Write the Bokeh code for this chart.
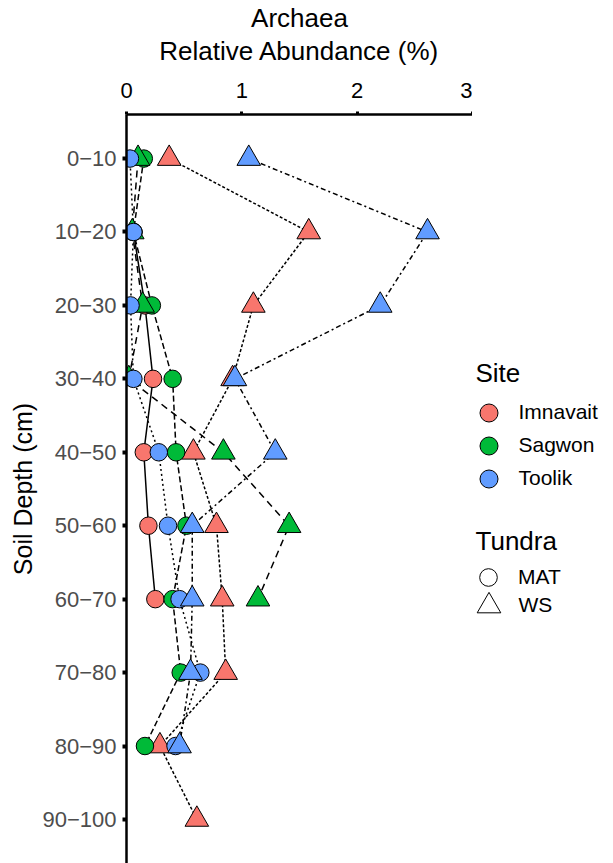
import numpy as np
from bokeh.plotting import figure
from bokeh.layouts import row
from bokeh.models import Range1d, FixedTicker, Legend, LegendItem, Label
from bokeh.embed import file_html
from bokeh.resources import INLINE

# ---------------- data ----------------
depth_labels = ["0−10", "10−20", "20−30", "30−40", "40−50",
                "50−60", "60−70", "70−80", "80−90", "90−100"]
x_ticks = [0, 1, 2, 3]

imnavait_mat = [None, 0.06, 0.16, 0.23, 0.15, 0.19, 0.25, None, None, None]
imnavait_ws = [0.37, 1.58, 1.10, 0.92, 0.58, 0.78, 0.83, 0.86, 0.29, 0.61]
sagwon_mat = [0.15, 0.06, 0.22, 0.40, 0.43, 0.52, 0.40, 0.47, 0.16, None]
sagwon_ws = [0.10, 0.05, 0.14, 0.02, 0.84, 1.41, 1.14, None, None, None]
toolik_mat = [0.03, 0.06, 0.035, 0.06, 0.28, 0.36, 0.46, 0.64, 0.425, None]
toolik_ws = [1.06, 2.61, 2.20, 0.94, 1.29, 0.57, 0.57, 0.555, 0.46, None]

sites = ["Imnavait", "Sagwon", "Toolik"]
site_colors = ["#F8766D", "#00BA38", "#619CFF"]
tundras = ["MAT", "WS"]

series = [
    ("Imnavait", "MAT", imnavait_mat, "solid"),
    ("Imnavait", "WS", imnavait_ws, "3 2"),
    ("Sagwon", "MAT", sagwon_mat, "6 3"),
    ("Sagwon", "WS", sagwon_ws, "7 5"),
    ("Toolik", "MAT", toolik_mat, "2 3"),
    ("Toolik", "WS", toolik_ws, "5 3 2 3"),
]

FONT = "Liberation Sans"
markers = {"MAT": "circle", "WS": "triangle"}
msize = {"MAT": 17.5, "WS": 23.6}

ypos = np.arange(1, len(depth_labels) + 1, dtype=float)

p = figure(width=472, height=863, output_backend="svg", toolbar_location=None,
           x_range=Range1d(0, 3), y_range=Range1d(len(depth_labels) + 0.6, 0.4),
           x_axis_location="above", y_axis_location="left",
           min_border_left=126, min_border_top=113, min_border_right=0, min_border_bottom=0)
p.outline_line_color = None
p.xgrid.visible = False
p.ygrid.visible = False
p.background_fill_color = "white"
p.border_fill_color = "white"

p.title.text = "Archaea"
p.title.align = "center"
p.title.text_font = FONT
p.title.text_font_size = "26px"
p.title.text_font_style = "normal"
p.title.text_color = "black"
p.title.standoff = 0
p.title.offset = 0


def arr(v):
    return np.array([np.nan if x is None else x for x in v], dtype=float)


# lines beneath
for site, tundra, vals, dash in series:
    p.line(arr(vals), ypos, line_color="black", line_width=1.5, line_dash=dash)

# points
for site, tundra, vals, dash in series:
    col = site_colors[sites.index(site)]
    p.scatter(arr(vals), ypos, marker=markers[tundra], size=msize[tundra],
              fill_color=col, line_color="black", line_width=1)

# axes
xa = p.xaxis[0]
xa.ticker = FixedTicker(ticks=x_ticks)
xa.axis_label = "Relative Abundance (%)"
xa.axis_label_text_font = FONT
xa.axis_label_text_font_size = "26px"
xa.axis_label_text_font_style = "normal"
xa.axis_label_text_color = "black"
xa.axis_label_standoff = 14
xa.major_label_text_font = FONT
xa.major_label_text_font_size = "22px"
xa.major_label_text_color = "black"
xa.major_label_standoff = 14
xa.axis_line_width = 2.5
xa.axis_line_color = "black"
xa.major_tick_line_width = 3
xa.major_tick_out = 3
xa.major_tick_in = 0
xa.minor_tick_line_color = None

ya = p.yaxis[0]
ya.ticker = FixedTicker(ticks=list(ypos))
ya.major_label_overrides = {float(y): lab for y, lab in zip(ypos, depth_labels)}
ya.axis_label = "Soil Depth (cm)"
ya.axis_label_text_font = FONT
ya.axis_label_text_font_size = "25px"
ya.axis_label_text_font_style = "normal"
ya.axis_label_text_color = "black"
ya.axis_label_standoff = 2
ya.major_label_text_font = FONT
ya.major_label_text_font_size = "22px"
ya.major_label_text_color = "#4D4D4D"
ya.major_label_standoff = 6
ya.axis_line_width = 2.5
ya.axis_line_color = "black"
ya.major_tick_line_width = 4
ya.major_tick_out = 4
ya.major_tick_in = 0
ya.minor_tick_line_color = None

# ---------------- legend panel ----------------
lf = figure(width=613 - 472, height=863, output_backend="svg", toolbar_location=None,
            x_range=Range1d(0, 1), y_range=Range1d(0, 1),
            x_axis_type=None, y_axis_type=None,
            min_border_left=0, min_border_right=0, min_border_top=0, min_border_bottom=0)
lf.outline_line_color = None
lf.xgrid.visible = False
lf.ygrid.visible = False
lf.background_fill_color = "white"
lf.border_fill_color = "white"

nan1 = [np.nan]


def make_legend(label, renderer, loc, box, standoff):
    leg = Legend(items=[LegendItem(label=label, renderers=[renderer])], location=loc,
                 glyph_width=box, glyph_height=box, label_standoff=standoff)
    leg.background_fill_alpha = 0
    leg.border_line_alpha = 0
    leg.padding = 0
    leg.margin = 0
    leg.label_text_font = FONT
    leg.label_text_font_size = "21px"
    leg.label_text_color = "black"
    leg.label_height = 20
    lf.add_layout(leg)


site_locs = [(-6.5, 428.5), (-6.5, 395.5), (-6.5, 362.5)]
for s, c, loc in zip(sites, site_colors, site_locs):
    r = lf.scatter(x=nan1, y=nan1, marker="circle", fill_color=c, line_color="black", line_width=1)
    make_legend(s, r, loc, 45, 8)

mat_r = lf.scatter(x=nan1, y=nan1, marker="circle", fill_color="white", line_color="black", line_width=1)
ws_r = lf.scatter(x=nan1, y=nan1, marker="triangle", fill_color="white", line_color="black", line_width=1)
make_legend(tundras[0], mat_r, (-6, 264), 44, 8)
make_legend(tundras[1], ws_r, (-13.5, 228.5), 59, 1)

for txt, yy in (("Site", 863 - 372), ("Tundra", 863 - 540)):
    lf.add_layout(Label(x=3, y=yy, x_units="screen", y_units="screen", text=txt,
                        text_font=FONT, text_font_size="26px", text_baseline="middle",
                        text_align="left", text_color="black"))

layout = row(p, lf)
open("out.html", "w").write(file_html(layout, INLINE))
